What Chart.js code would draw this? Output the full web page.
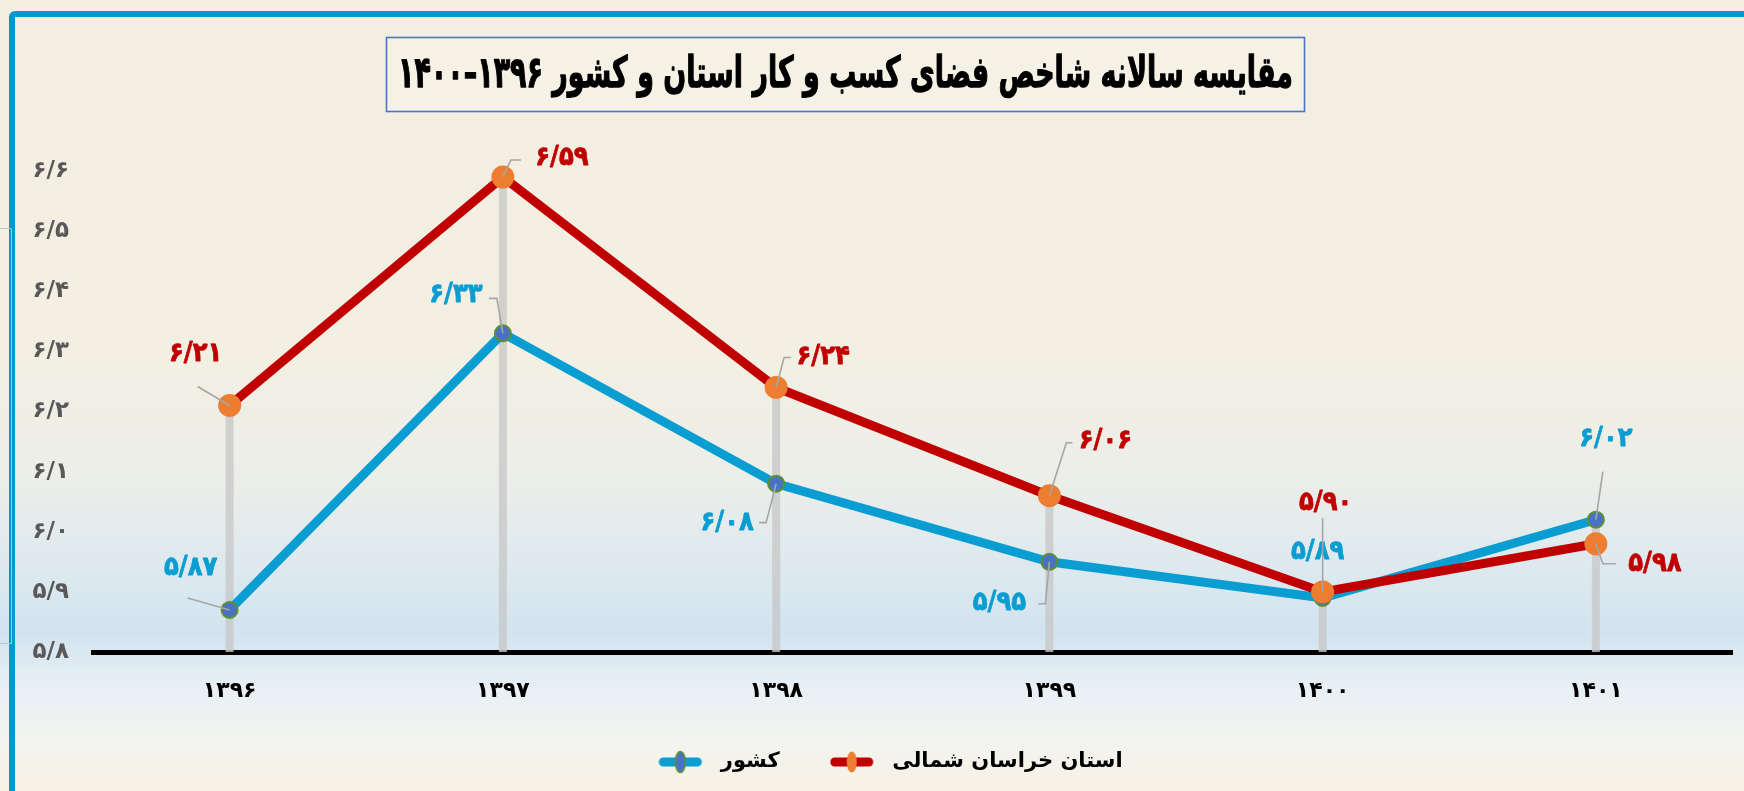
<!DOCTYPE html>
<html>
<head>
<meta charset="utf-8">
<script src="https://cdn.jsdelivr.net/npm/chart.js@4.4.1/dist/chart.umd.min.js"></script>
<style>
html,body{margin:0;padding:0;background:#f3efe2;}
canvas{display:block;}
</style>
</head>
<body>
<canvas id="c" width="1744" height="791"></canvas>
<script>
// ---- data ----
const years = ['۱۳۹۶','۱۳۹۷','۱۳۹۸','۱۳۹۹','۱۴۰۰','۱۴۰۱'];
const provinceValues = [6.21, 6.59, 6.24, 6.06, 5.90, 5.98];
const nationValues = [5.87, 6.33, 6.08, 5.95, 5.89, 6.02];
const provinceLabel = 'استان خراسان شمالی';
const nationLabel = 'کشور';
const yTickLabels = ['۵/۸','۵/۹','۶/۰','۶/۱','۶/۲','۶/۳','۶/۴','۶/۵','۶/۶'];
const chartTitle = 'مقایسه سالانه شاخص فضای کسب و کار استان و کشور ۱۳۹۶–۱۴۰۰';

// ---- label placement (styling only) ----
const provinceLabelOffsets = [[-34,-52],[59,-19],[47,-30],[56,-55],[3,-89],[59,20]];
const provinceLeaders = [
  [[0,0],[-32,-19]],
  [[0,0],[8,-17],[18,-17]],
  [[0,0],[8,-30],[15,-30]],
  [[0,0],[17,-53],[23,-53]],
  [[0,0],[0,-74]],
  [[0,0],[7,20],[20,20]]
];
const nationLabelOffsets = [[-39,-42],[-47,-38],[-49,39],[-50,41],[-5,-46],[10,-81]];
const nationLeaders = [
  [[0,0],[-42,-12]],
  [[0,0],[-6,-35],[-14,-35]],
  [[0,0],[-10,39],[-17,39]],
  [[0,0],[-4,42],[-11,42]],
  null,
  [[0,0],[7,-48]]
];

const FONT = "'DejaVu Sans', 'Noto Sans', sans-serif";
const RED = '#c00000', BLUE = '#0a9dd2', ORANGE = '#ed7d31', MBLUE = '#4a72c4', MGREEN = '#5e8f32';

function toFa(v){
  const d = '۰۱۲۳۴۵۶۷۸۹';
  return v.toFixed(2).replace('.', '/').replace(/[0-9]/g, c => d[+c]);
}

function legendIcon(lineColor, fill, stroke){
  const c = document.createElement('canvas');
  c.width = 52; c.height = 24;
  const g = c.getContext('2d');
  g.strokeStyle = lineColor; g.lineWidth = 9; g.lineCap = 'round';
  g.beginPath(); g.moveTo(5,12); g.lineTo(39,12); g.stroke();
  g.fillStyle = fill;
  g.beginPath(); g.ellipse(22,12,5,10.5,0,0,Math.PI*2); g.fill();
  if (stroke){ g.strokeStyle = stroke; g.lineWidth = 1.5; g.stroke(); }
  return c;
}

function heavyText(ctx, text, x, y, size, color, sx, thick){
  ctx.save();
  ctx.translate(x, y);
  ctx.scale(sx, 1);
  ctx.font = 'bold ' + size + 'px ' + FONT;
  ctx.textAlign = 'center'; ctx.textBaseline = 'middle';
  ctx.fillStyle = color; ctx.strokeStyle = color; ctx.lineWidth = thick; ctx.lineJoin = 'round';
  ctx.fillText(text, 0, 0);
  if (thick > 0) ctx.strokeText(text, 0, 0);
  ctx.restore();
}

const bgPlugin = {
  id:'bg',
  afterLayout(chart){
    // nudge the legend row to the right, as in the reference
    if (chart.legend){ chart.legend.left += 23; chart.legend.right += 23; }
  },
  beforeDraw(chart){
    const {ctx, width, height} = chart;
    ctx.save();
    const gr = ctx.createLinearGradient(0,0,0,height);
    gr.addColorStop(0,'#f3eee0');
    gr.addColorStop(0.45,'#f3efe3');
    gr.addColorStop(0.6,'#eceee8');
    gr.addColorStop(0.72,'#dde9ef');
    gr.addColorStop(0.8,'#d2e3ef');
    gr.addColorStop(0.87,'#e8f0f5');
    gr.addColorStop(0.94,'#f3f4ef');
    gr.addColorStop(1,'#f6f1e3');
    ctx.fillStyle = gr;
    ctx.fillRect(0,0,width,height);
    // frame
    ctx.strokeStyle = '#009acd';
    ctx.lineWidth = 6;
    ctx.beginPath();
    ctx.moveTo(12, height+10);
    ctx.lineTo(12, 17);
    ctx.arcTo(12, 14, 16, 14, 3);
    ctx.lineTo(width+10, 14);
    ctx.stroke();
    // faint bracket of neighbouring frame
    ctx.strokeStyle = '#b9c3c9';
    ctx.lineWidth = 1;
    ctx.beginPath();
    ctx.moveTo(0,228.5); ctx.lineTo(11.5,228.5); ctx.lineTo(11.5,643.5); ctx.lineTo(0,643.5);
    ctx.stroke();
    ctx.restore();
  },
  beforeDatasetsDraw(chart){
    const {ctx, chartArea} = chart;
    const xs = chart.scales.x, ys = chart.scales.y;
    ctx.save();
    ctx.strokeStyle = 'rgba(200,200,200,0.8)';
    ctx.lineWidth = 8;
    years.forEach((_, i) => {
      const x = xs.getPixelForValue(i);
      const top = ys.getPixelForValue(Math.max(provinceValues[i], nationValues[i]));
      ctx.beginPath(); ctx.moveTo(x, top); ctx.lineTo(x, chartArea.bottom); ctx.stroke();
    });
    ctx.restore();
  },
  afterDatasetsDraw(chart){
    const {ctx} = chart;
    const xs = chart.scales.x, ys = chart.scales.y;
    ctx.save();
    const drawSet = (vals, offs, leaders, color) => {
      vals.forEach((v, i) => {
        const px = xs.getPixelForValue(i), py = ys.getPixelForValue(v);
        const L = leaders[i];
        if (L){
          ctx.strokeStyle = '#a6a6a6'; ctx.lineWidth = 1.6;
          ctx.beginPath();
          L.forEach((p, k) => k ? ctx.lineTo(px+p[0], py+p[1]) : ctx.moveTo(px+p[0], py+p[1]));
          ctx.stroke();
        }
      });
      vals.forEach((v, i) => {
        const px = xs.getPixelForValue(i), py = ys.getPixelForValue(v);
        heavyText(ctx, toFa(v), px + offs[i][0], py + offs[i][1], 27, color, 0.9, 0.8);
      });
    };
    drawSet(nationValues, nationLabelOffsets, nationLeaders, BLUE);
    drawSet(provinceValues, provinceLabelOffsets, provinceLeaders, RED);
    ctx.restore();
  },
  afterDraw(chart){
    const {ctx} = chart;
    ctx.save();
    // title box
    const bx = 386.5, by = 37.5, bw = 918, bh = 74;
    ctx.fillStyle = 'rgba(255,255,255,0.18)';
    ctx.fillRect(bx, by, bw, bh);
    ctx.strokeStyle = '#4a74c8'; ctx.lineWidth = 1.6;
    ctx.strokeRect(bx, by, bw, bh);
    ctx.direction = 'rtl';
    const fs = 43;
    ctx.font = 'bold ' + fs + 'px ' + FONT;
    const w = ctx.measureText(chartTitle).width;
    const sx = 895 / w;
    ctx.translate(bx + bw/2, by + bh/2 + 1);
    ctx.scale(sx, 1);
    ctx.fillStyle = '#000'; ctx.strokeStyle = '#000'; ctx.lineWidth = 1.3; ctx.lineJoin = 'round';
    ctx.textAlign = 'center'; ctx.textBaseline = 'middle';
    ctx.fillText(chartTitle, 0, 0);
    ctx.strokeText(chartTitle, 0, 0);
    ctx.restore();
  }
};

const chart = new Chart(document.getElementById('c'), {
  type:'line',
  data:{
    labels: years,
    datasets:[
      {label: nationLabel, data: nationValues, borderColor: BLUE, borderWidth: 9,
       pointRadius: 8, pointBackgroundColor: MBLUE, pointBorderColor: MGREEN, pointBorderWidth: 2,
       tension: 0, order: 2, clip: false},
      {label: provinceLabel, data: provinceValues, borderColor: RED, borderWidth: 9,
       pointRadius: 11.5, pointBackgroundColor: ORANGE, pointBorderColor: ORANGE, pointBorderWidth: 0,
       tension: 0, order: 1, clip: false}
    ]
  },
  options:{
    responsive:false, animation:false, devicePixelRatio:1,
    layout:{padding:{top:171, left:0, right:9, bottom:8.5}},
    scales:{
      x:{
        offset:true,
        grid:{display:false, drawTicks:false},
        border:{display:true, color:'#000', width:5},
        ticks:{color:'#000', font:{family:FONT, size:22, weight:'bold'}, padding:26},
        afterFit(s){ s.height = 49.5; }
      },
      y:{
        min:5.8, max:6.6,
        grid:{display:false, drawTicks:false},
        border:{display:false},
        ticks:{stepSize:0.1, color:'#595959', font:{family:FONT, size:23, weight:'bold'}, padding:24,
               callback:(v, i) => yTickLabels[i]},
        afterFit(s){ s.width = 93; }
      }
    },
    plugins:{
      title:{display:false},
      tooltip:{enabled:false},
      legend:{
        position:'bottom',
        labels:{
          usePointStyle:true, pointStyleWidth:52, padding:50,
          color:'#000', font:{family:FONT, size:21, weight:'bold'},
          generateLabels(){
            return [
              {text: nationLabel, pointStyle: legendIcon(BLUE, MBLUE, MGREEN), fillStyle: BLUE, strokeStyle: BLUE, lineWidth: 0, datasetIndex: 0, hidden: false},
              {text: provinceLabel, pointStyle: legendIcon(RED, ORANGE, null), fillStyle: RED, strokeStyle: RED, lineWidth: 0, datasetIndex: 1, hidden: false}
            ];
          }
        }
      }
    }
  },
  plugins:[bgPlugin]
});
</script>
</body>
</html>
